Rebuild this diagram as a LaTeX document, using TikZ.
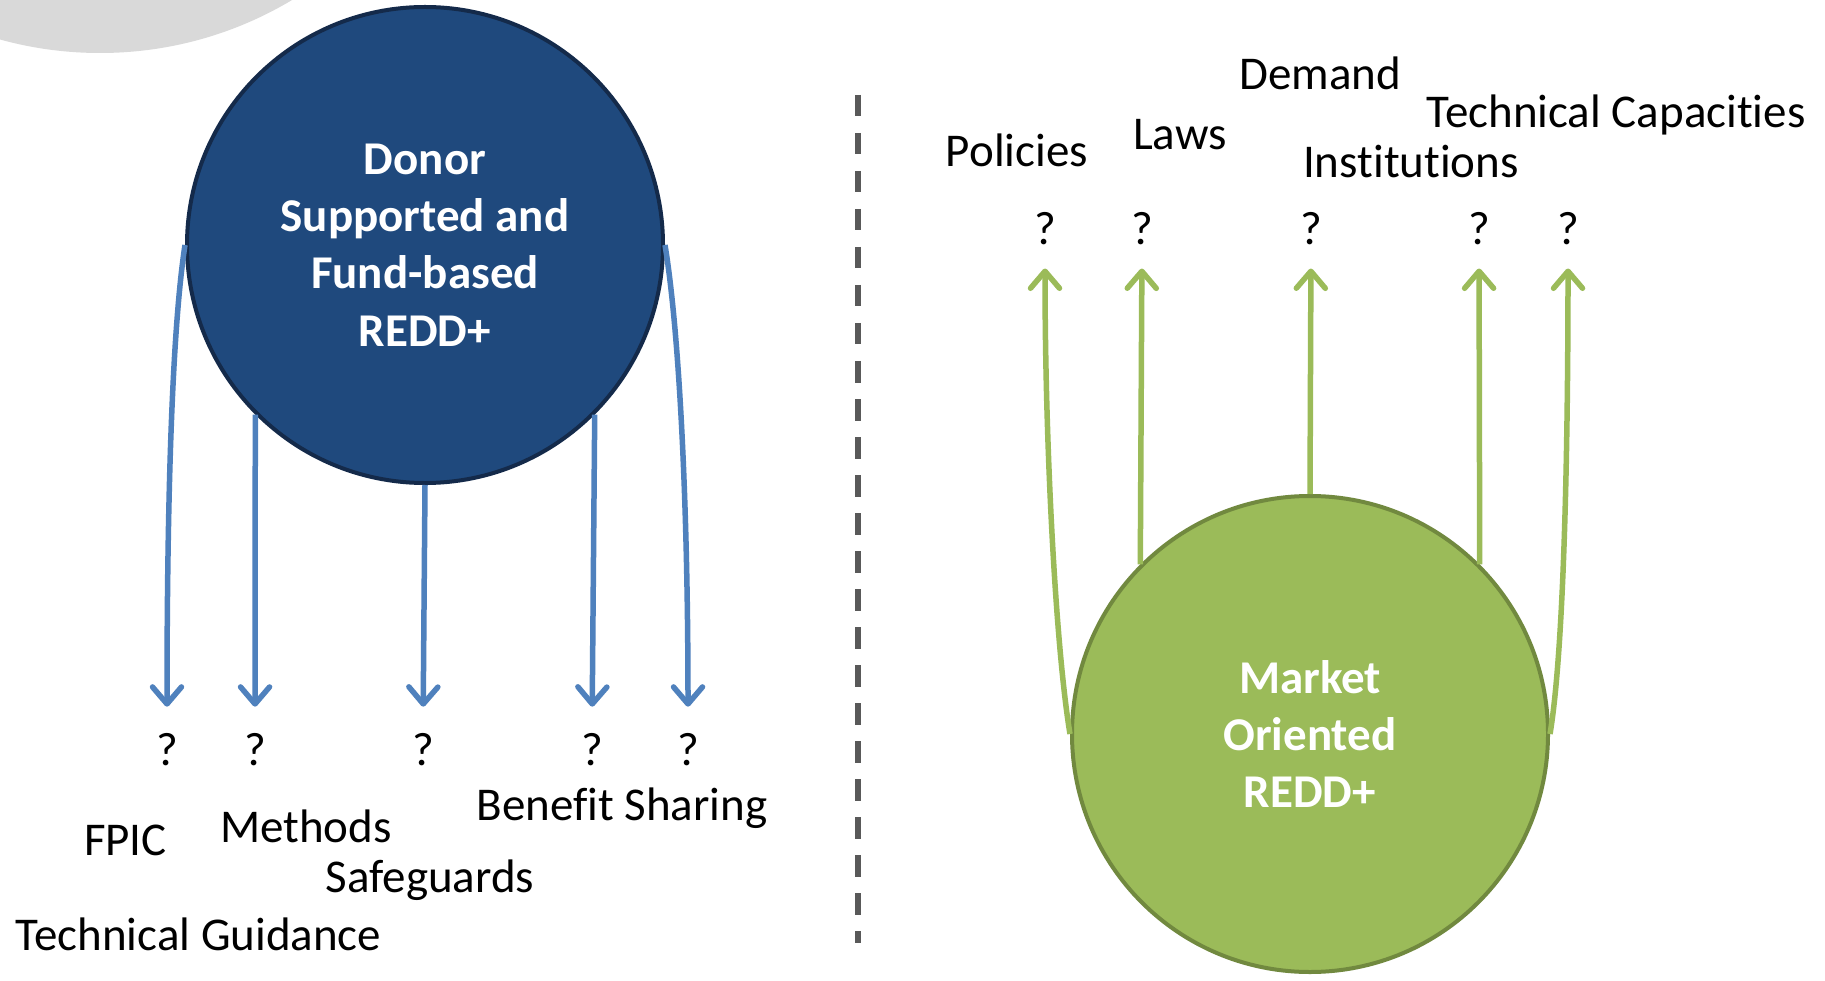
\documentclass[tikz,border=0pt]{standalone}
\usepackage{fontspec}
\setmainfont{Carlito}[RawFeature={-liga;-clig;-dlig;-calt}]
\usetikzlibrary{arrows.meta}
\newcommand{\tisep}{\kern0pt}
\definecolor{decogray}{HTML}{D9D9D9}
\definecolor{navyfill}{HTML}{1F497D}
\definecolor{navyline}{HTML}{142A4A}
\definecolor{arrblue}{HTML}{4F81BD}
\definecolor{greenfill}{HTML}{9BBB59}
\definecolor{greenline}{HTML}{71893F}
\definecolor{arrgreen}{HTML}{9BBB59}
\definecolor{dashgray}{HTML}{595959}
\begin{document}
\begin{tikzpicture}[x=1pt,y=-1pt,
  lbl/.style={font=\fontsize{47}{57.4}\selectfont, inner sep=0pt, anchor=base, text=black},
  bigcirc/.style={circle, minimum size=476pt, inner sep=0pt, line width=4pt, align=center, text=white, font=\bfseries\fontsize{47}{57.4}\selectfont},
  bluearr/.style={draw=arrblue, line width=5.5pt, -{Straight Barb[length=17pt,width=29pt,round]}, shorten >=26pt},
  greenarr/.style={draw=arrgreen, line width=5.5pt, -{Straight Barb[length=17pt,width=29pt,round]}, shorten >=23pt},
  dashline/.style={draw=dashgray, line width=5.5pt, dash pattern=on 21.5pt off 16.5pt}
]
\useasboundingbox (0,0) rectangle (1825,981);
\fill[white] (0,0) rectangle (1825,981);
\begin{scope}
  \clip (0,0) rectangle (1825,981);
  \fill[decogray] (100,-321) circle[radius=374];
\end{scope}

% divider
\coordinate (dtop) at (858,95);
\coordinate (dbot) at (858,943);
\draw[dashline] (dtop) -- (dbot);

% circles
\node[bigcirc, fill=navyfill, draw=navyline] (D) at (425,245) {Donor\\Supported and\\Fund-based\\REDD+};
\node[bigcirc, fill=greenfill, draw=greenline] (M) at (1310,734) {Market\\Oriented\\REDD+};

% question marks, left
\node[lbl] (q1) at (167,765) {?};
\node[lbl] (q2) at (255,765) {?};
\node[lbl] (q3) at (423,765) {?};
\node[lbl] (q4) at (592,765) {?};
\node[lbl] (q5) at (688,765) {?};
% question marks, right
\node[lbl] (r1) at (1045,245) {?};
\node[lbl] (r2) at (1142,245) {?};
\node[lbl] (r3) at (1311,245) {?};
\node[lbl] (r4) at (1479,245) {?};
\node[lbl] (r5) at (1568,245) {?};

% blue arrows
\draw[bluearr] (D.180) .. controls (172,330) and (167,500) .. (q1.north);
\draw[bluearr] (D.-135) -- (q2.north);
\draw[bluearr] (D.south) -- (q3.north);
\draw[bluearr] (D.-45) -- (q4.north);
\draw[bluearr] (D.0) .. controls (679,330) and (688,500) .. (q5.north);

% green arrows
\draw[greenarr] (M.180) .. controls (1056,650) and (1045,450) .. (r1.south);
\draw[greenarr] (M.135) -- (r2.south);
\draw[greenarr] (M.north) -- (r3.south);
\draw[greenarr] (M.45) -- (r4.south);
\draw[greenarr] (M.0) .. controls (1564,650) and (1568,450) .. (r5.south);

% labels, left
\node[lbl] (fpic) at (125.5,855) {FPIC};
\node[lbl] (meth) at (306,842) {Methods};
\node[lbl] (safe) at (430,892) {Safeguards};
\node[lbl] (bens) at (622,820) {Benefit Sharing};
\node[lbl] (tgui) at (198.5,950) {Technical Guidance};
% labels, right
\node[lbl] (poli) at (1017,167) {Policies};
\node[lbl] (laws) at (1180,150) {Laws};
\node[lbl] (dema) at (1320,90) {Demand};
\node[lbl] (inst) at (1411,178) {Inst\tisep it\tisep ut\tisep ions};
\node[lbl] (tcap) at (1616,128) {Technical Capacit\tisep ies};
\end{tikzpicture}
\end{document}
